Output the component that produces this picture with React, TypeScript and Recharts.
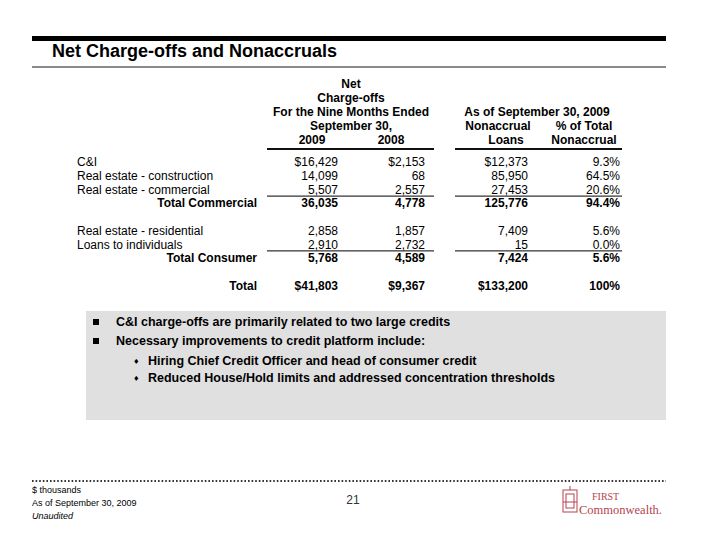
import React from "react";
import { ComposedChart, Scatter, XAxis, YAxis } from "recharts";

// table rows (blank rows keep the gaps between blocks)
const rowLabels = [
  "C&I",
  "Real estate - construction",
  "Real estate - commercial",
  "Total Commercial",
  "",
  "Real estate - residential",
  "Loans to individuals",
  "Total Consumer",
  "",
  "Total",
];
const rowKinds = ["item", "item", "item", "subtotal", "blank", "item", "item", "subtotal", "blank", "total"];
const chargeOffs2009 = [16429, 14099, 5507, 36035, null, 2858, 2910, 5768, null, 41803];
const chargeOffs2008 = [2153, 68, 2557, 4778, null, 1857, 2732, 4589, null, 9367];
const nonaccrualLoans = [12373, 85950, 27453, 125776, null, 7409, 15, 7424, null, 133200];
const pctOfTotal = [9.3, 64.5, 20.6, 94.4, null, 5.6, 0.0, 5.6, null, 100];
const dollarRows = ["C&I", "Total"];

const bullets = [
  "C&I charge-offs are primarily related to two large credits",
  "Necessary improvements to credit platform include:",
];
const subBullets = [
  "Hiring Chief Credit Officer and head of consumer credit",
  "Reduced House/Hold limits and addressed concentration thresholds",
];
const footNotes = ["$ thousands", "As of  September 30, 2009", "Unaudited"];
const pageNumber = "21";

const rows = rowLabels.map((label, i) => ({
  id: "r" + i,
  label,
  kind: rowKinds[i],
  c2009: chargeOffs2009[i],
  c2008: chargeOffs2008[i],
  nonaccrual: nonaccrualLoans[i],
  pct: pctOfTotal[i],
}));

const FONT = "'Liberation Sans', Arial, Helvetica, sans-serif";
const W = 710;
const H = 549;
const FS = 12;
const ROW_STEP = 13.7;
const TABLE_TOP = 162;

// right edges of the value columns
const columns = [
  { key: "c2009", right: 338, pct: false },
  { key: "c2008", right: 425, pct: false },
  { key: "nonaccrual", right: 528, pct: false },
  { key: "pct", right: 620, pct: true },
];

function fmt(v: number, row: any, pct: boolean) {
  if (pct) return v === 100 ? "100%" : v.toFixed(1) + "%";
  const s = v.toLocaleString("en-US");
  return dollarRows.includes(row.label) ? "$" + s : s;
}

const cellShape = (key: string, pct: boolean) => (props: any) => {
  const { cx, cy, payload } = props;
  const v = payload[key];
  if (v == null || cx == null) return <g />;
  const bold = payload.kind !== "item";
  return (
    <text x={cx} y={cy} dy="0.36em" textAnchor="end" fontFamily={FONT} fontSize={FS} fontWeight={bold ? 700 : 400} fill="#000">
      {fmt(v, payload, pct)}
    </text>
  );
};

const labelShape = (props: any) => {
  const { cx, cy, payload } = props;
  if (payload.kind === "blank" || cx == null) return <g />;
  const item = payload.kind === "item";
  return (
    <text x={cx} y={cy} dy="0.36em" textAnchor={item ? "start" : "end"} fontFamily={FONT} fontSize={FS} fontWeight={item ? 400 : 700} fill="#000">
      {payload.label}
    </text>
  );
};

// rule above each subtotal row
const ruleShape = (props: any) => {
  const { cy, payload } = props;
  if (payload.kind !== "subtotal" || cy == null) return <g />;
  const y = cy - 7;
  return (
    <g stroke="#000" strokeWidth={1}>
      <line x1={267} x2={434} y1={y} y2={y} />
      <line x1={455} x2={622} y1={y} y2={y} />
    </g>
  );
};

function Txt({ x, y, children, align = "left", size = FS, weight = 400, italic = false, color = "#000", family = FONT }: any) {
  const shift = align === "center" ? "translateX(-50%)" : align === "right" ? "translateX(-100%)" : "none";
  return (
    <div
      style={{
        position: "absolute",
        left: x,
        top: y - size * 0.6,
        lineHeight: size * 1.2 + "px",
        fontSize: size,
        fontWeight: weight,
        fontStyle: italic ? "italic" : "normal",
        fontFamily: family,
        color,
        whiteSpace: "nowrap",
        transform: shift,
      }}
    >
      {children}
    </div>
  );
}

export default function App() {
  const plotH = ROW_STEP * (rows.length - 1);
  return (
    <div style={{ position: "absolute", left: 0, top: 0, width: W, height: H, background: "#fff", overflow: "hidden" }}>
      {/* title band */}
      <div style={{ position: "absolute", left: 32, top: 36, width: 634, height: 5, background: "#000" }} />
      <Txt x={52} y={52} size={18} weight={700}>Net Charge-offs and Nonaccruals</Txt>
      <div style={{ position: "absolute", left: 32, top: 66, width: 634, height: 2, background: "#8a8a8a" }} />

      {/* column headers */}
      <Txt x={351} y={84} align="center" weight={700}>Net</Txt>
      <Txt x={351} y={98} align="center" weight={700}>Charge-offs</Txt>
      <Txt x={351} y={112} align="center" weight={700}>For the Nine Months Ended</Txt>
      <Txt x={351} y={126} align="center" weight={700}>September 30,</Txt>
      <Txt x={312} y={140} align="center" weight={700}>2009</Txt>
      <Txt x={391} y={140} align="center" weight={700}>2008</Txt>
      <Txt x={537} y={112} align="center" weight={700}>As of September 30, 2009</Txt>
      <Txt x={498} y={126} align="center" weight={700}>Nonaccrual</Txt>
      <Txt x={506} y={140} align="center" weight={700}>Loans</Txt>
      <Txt x={584} y={126} align="center" weight={700}>% of Total</Txt>
      <Txt x={584} y={140} align="center" weight={700}>Nonaccrual</Txt>
      <div style={{ position: "absolute", left: 267, top: 148, width: 167, height: 2, background: "#111" }} />
      <div style={{ position: "absolute", left: 455, top: 148, width: 167, height: 2, background: "#111" }} />

      {/* comment box */}
      <div style={{ position: "absolute", left: 86, top: 311, width: 580, height: 109, background: "#e0e0e0" }} />
      {bullets.map((b, i) => (
        <React.Fragment key={b}>
          <div style={{ position: "absolute", left: 93, top: 319 + i * 19, width: 6, height: 6, background: "#000" }} />
          <Txt x={116} y={322.5 + i * 19} size={12.5} weight={700}>{b}</Txt>
        </React.Fragment>
      ))}
      {subBullets.map((b, i) => (
        <React.Fragment key={b}>
          <Txt x={134} y={361 + i * 17.5} size={9} weight={700}>♦</Txt>
          <Txt x={148} y={361 + i * 17.5} size={12.5} weight={700}>{b}</Txt>
        </React.Fragment>
      ))}

      <div style={{ position: "absolute", left: 0, top: 0 }}>
        <ComposedChart width={W} height={H} data={rows} layout="vertical" margin={{ top: TABLE_TOP, bottom: H - TABLE_TOP - plotH, left: 0, right: 0 }}>
          <XAxis type="number" domain={[0, W]} hide allowDataOverflow />
          <YAxis type="category" dataKey="id" hide allowDuplicatedCategory={false} />
          <Scatter dataKey={(r: any) => (r.kind === "item" ? 77 : 257)} shape={labelShape} isAnimationActive={false} />
          <Scatter dataKey={() => 267} shape={ruleShape} isAnimationActive={false} />
          {columns.map((c) => (
            <Scatter key={c.key} dataKey={() => c.right} shape={cellShape(c.key, c.pct)} isAnimationActive={false} />
          ))}
        </ComposedChart>
      </div>

      {/* footer */}
      <svg style={{ position: "absolute", left: 0, top: 0 }} width={W} height={H}>
        <line x1={32} x2={666} y1={481} y2={481} stroke="#333" strokeWidth={2} strokeDasharray="1.6 2" />
        <g stroke="#b5434f" fill="none" strokeWidth={1}>
          <rect x={563} y={490} width={14} height={22} />
          <rect x={566} y={494} width={8} height={14} />
          <line x1={570} x2={570} y1={486} y2={490} />
          <line x1={563} x2={577} y1={502} y2={502} />
        </g>
        <text x={592} y={500} fontFamily="'Liberation Serif', 'DejaVu Serif', serif" fontSize={10} fill="#b5434f">FIRST</text>
        <text x={579} y={514} fontFamily="'Liberation Serif', 'DejaVu Serif', serif" fontSize={12.5} fill="#b5434f">Commonwealth.</text>
      </svg>
      {footNotes.map((t, i) => (
        <Txt key={t} x={32} y={490 + i * 13} size={9} italic={i === 2}>{t}</Txt>
      ))}
      <Txt x={353} y={500} align="center" size={12} color="#333">{pageNumber}</Txt>
    </div>
  );
}
